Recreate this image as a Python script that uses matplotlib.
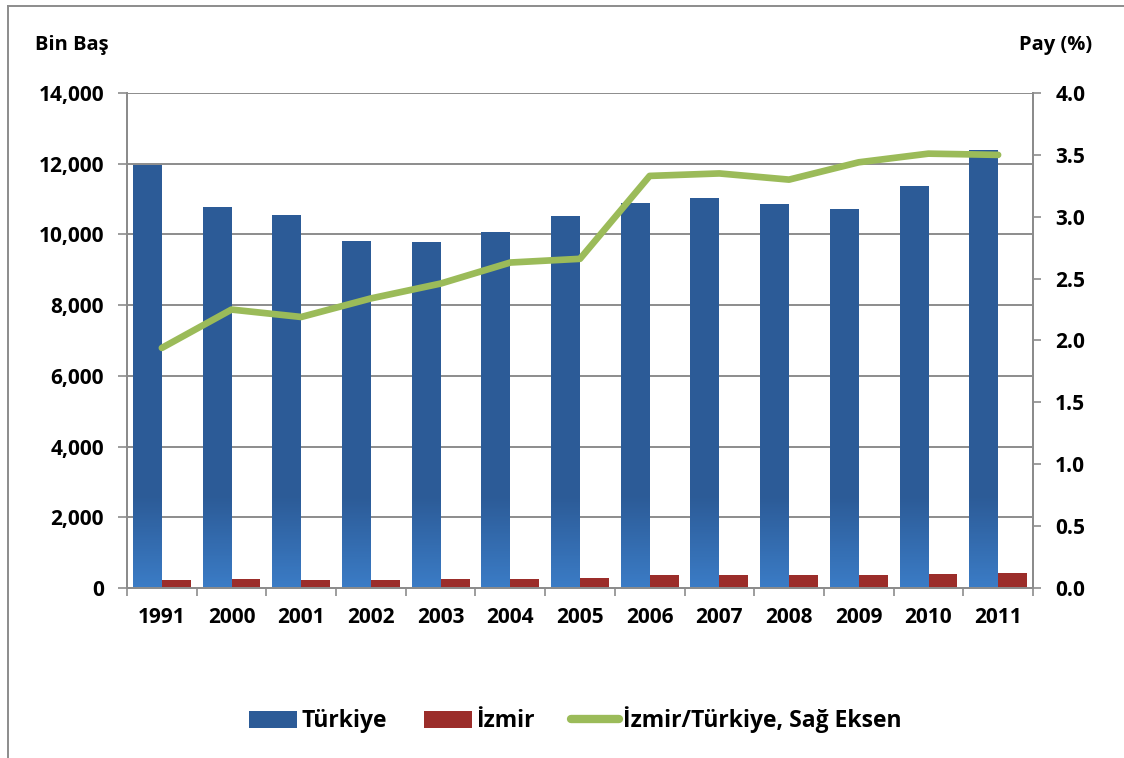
import numpy as np
import matplotlib.pyplot as plt
from matplotlib.colors import LinearSegmentedColormap
from matplotlib.lines import Line2D
from matplotlib.patches import Patch

plt.rcParams['font.family'] = ['Open Sans', 'DejaVu Sans']
plt.rcParams['font.weight'] = 'bold'

years = ['1991', '2000', '2001', '2002', '2003', '2004', '2005',
         '2006', '2007', '2008', '2009', '2010', '2011']
turkiye = [11960, 10780, 10550, 9810, 9790, 10070, 10520,
           10890, 11030, 10860, 10720, 11370, 12390]
izmir = [232, 241, 231, 230, 241, 265, 280,
         363, 371, 358, 369, 399, 434]
pay = [1.94, 2.25, 2.19, 2.34, 2.46, 2.63, 2.66,
       3.33, 3.35, 3.30, 3.44, 3.51, 3.50]

blue = '#2C5B97'
red = '#9B2D2A'
green = '#9BBB59'
gridc = '#8C8C8C'
fs = 15

fig = plt.figure(figsize=(11.24, 7.58), dpi=100)
ax = fig.add_axes([0.113, 0.2243, 0.806, 0.653])
ax2 = ax.twinx()

x = np.arange(len(years))
w = 0.415
# blue bars are filled with a vertical gradient (lighter near the base)
bars = ax.bar(x - w/2, turkiye, w, color='none', edgecolor='none', zorder=3)
ax.bar(x + w/2, izmir, w, color=red, zorder=3)

cmap = LinearSegmentedColormap.from_list('g', ['#3B7CC6', blue])
for b in bars:
    x0, h = b.get_x(), b.get_height()
    yy = np.linspace(0, h, 400)
    grad = np.clip(yy / 2600.0, 0, 1).reshape(-1, 1)
    im = ax.imshow(grad, extent=[x0, x0 + b.get_width(), 0, h], origin='lower',
                   aspect='auto', cmap=cmap, vmin=0, vmax=1, zorder=3,
                   interpolation='nearest')
    im.set_clip_path(b)

ax.set_xlim(-0.5, len(years) - 0.5)
ax.set_ylim(0, 14000)
ax.set_yticks(np.arange(0, 14001, 2000))
ax.set_yticklabels(['{:,}'.format(v) for v in range(0, 14001, 2000)])
ax.set_xticks(x)
ax.set_xticklabels(years)
ax.set_xticks(np.arange(-0.5, len(years), 1), minor=True)
ax.tick_params(axis='x', which='major', length=0, pad=14, labelsize=fs)
ax.tick_params(axis='x', which='minor', length=6, width=1.2, color=gridc, direction='out')
ax.tick_params(axis='y', length=6.5, width=1.2, color=gridc, pad=10, labelsize=fs)
ax.grid(axis='y', color=gridc, linewidth=1.4, zorder=0)
ax.set_axisbelow(True)

ax2.plot(x, pay, color=green, linewidth=4.8, solid_capstyle='round',
         solid_joinstyle='round', zorder=5)
ax2.set_ylim(0, 4.0)
ax2.set_yticks(np.arange(0, 4.01, 0.5))
ax2.set_yticklabels(['%.1f' % v for v in np.arange(0, 4.01, 0.5)])
ax2.tick_params(axis='y', length=6, width=1.2, color=gridc, pad=10, labelsize=fs)

for a in (ax, ax2):
    for s in a.spines.values():
        s.set_color(gridc)
        s.set_linewidth(1.4)
    for t in a.get_xticklabels() + a.get_yticklabels():
        t.set_fontweight('bold')
ax.spines['top'].set_visible(False)
ax2.spines['top'].set_visible(False)

fig.text(0.031, 0.94, 'Bin Baş', fontsize=14.5, fontweight='bold', va='center', ha='left')
fig.text(0.972, 0.94, 'Pay (%)', fontsize=14.5, fontweight='bold', va='center', ha='right')

handles = [Patch(facecolor=blue), Patch(facecolor=red),
           Line2D([0], [0], color=green, linewidth=6, solid_capstyle='round')]
labels = ['Türkiye', 'İzmir', 'İzmir/Türkiye, Sağ Eksen']
fig.legend(handles, labels, loc='center', bbox_to_anchor=(0.512, 0.05), ncol=3,
           frameon=False, handlelength=2.1, handleheight=0.75,
           handletextpad=0.18, columnspacing=1.6,
           prop={'size': 16.5, 'weight': 'bold'})

# outer chart border (top and left edges visible)
fig.add_artist(Line2D([8/1124, 1], [1 - 5.5/758, 1 - 5.5/758], color=gridc, linewidth=1.4))
fig.add_artist(Line2D([8/1124, 8/1124], [0, 1 - 5.5/758], color=gridc, linewidth=1.4))

fig.savefig('out.png', dpi=100)
plt.close()
